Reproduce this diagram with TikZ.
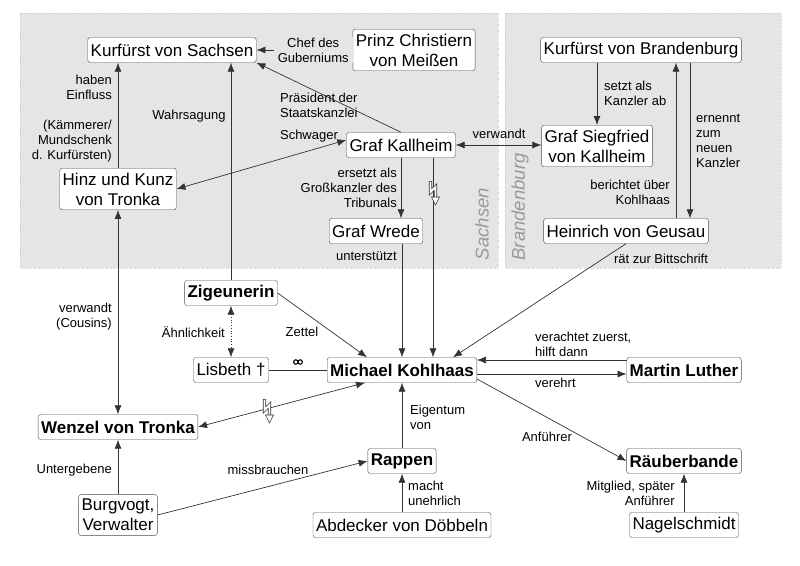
\documentclass[tikz,border=0pt]{standalone}
\usepackage{fontspec}
\setmainfont{Liberation Sans}
\usetikzlibrary{arrows.meta}

\definecolor{landfill}{RGB}{229,229,229}
\definecolor{landline}{RGB}{200,200,200}

\tikzset{
    person/.style={draw=black!70, fill=white, rounded corners=2.5pt, inner xsep=3pt, inner ysep=4.5pt,
        minimum height=25pt, align=center, font=\fontsize{17}{20}\selectfont},
    hero/.style={person, font=\fontsize{17}{20}\selectfont\bfseries},
    lbl/.style={inner sep=0pt, font=\fontsize{13}{15}\selectfont},
    rel/.style={draw=black!80, line width=0.7pt},
    land/.style={draw=landline, dotted, fill=landfill},
    landname/.style={rotate=90, inner sep=0pt, text=black!40, font=\fontsize{18.5}{20}\selectfont\itshape},
    blitz/.pic={
        \draw[black!80, line width=3.4pt, line join=miter] (-2.5,-12) -- (-2.5,-1) -- (2.5,-6) -- (2.5,5);
        \draw[white, line width=1.8pt, line join=miter] (-2.5,-11.3) -- (-2.5,-1) -- (2.5,-6) -- (2.5,5);
        \draw[black!80, fill=white, line width=0.6pt] (-1.5,4) -- (6.5,4) -- (2.5,12) -- cycle;}
}

\begin{document}
\begin{tikzpicture}[x=1pt, y=-1pt, >={Latex[length=9pt,width=7pt]}] % pixel units, y pointing down

        \useasboundingbox (0,0) rectangle (800,565); % page of 800 x 565

        % Territories
        \draw[land] (20,13) rectangle (498,268);
        \draw[land] (505,13) rectangle (781,268);
        \node[landname] (sachsen) at (482,224) {Sachsen};
        \node[landname] (brandenburg) at (520,207) {Brandenburg};

        % Persons
        \node[person] (ksachsen) at (172,50) {Kurfürst von Sachsen};
        \node[person] (prinz) at (414,50) {Prinz Christiern\\von Meißen};
        \node[person] (kbrand) at (641,50) {Kurfürst von Brandenburg};
        \node[person] (kallheim) at (401,145) {Graf Kallheim};
        \node[person] (siegfried) at (597,146) {Graf Siegfried\\von Kallheim};
        \node[person] (hinzkunz) at (118,189) {Hinz und Kunz\\von Tronka};
        \node[person] (wrede) at (376,231) {Graf Wrede};
        \node[person] (geusau) at (626,231) {Heinrich von Geusau};
        \node[hero] (zigeunerin) at (231,293) {Zigeunerin};
        \node[person] (lisbeth) at (231,370) {Lisbeth †};
        \node[hero] (kohlhaas) at (402,370) {Michael Kohlhaas};
        \node[hero] (luther) at (684,370) {Martin Luther};
        \node[hero] (wenzel) at (118,427) {Wenzel von Tronka};
        \node[hero] (rappen) at (402,461) {Rappen};
        \node[hero] (bande) at (684,461) {Räuberbande};
        \node[person] (burgvogt) at (118,515) {Burgvogt,\\Verwalter};
        \node[person] (abdecker) at (402,525) {Abdecker von Döbbeln};
        \node[person] (nagel) at (684,525) {Nagelschmidt};

        % Relations in Sachsen
        \draw[rel,->] (prinz.west) -- node[lbl, pos=0.41, fill=landfill, inner xsep=4pt, inner ysep=1pt, align=center] (chef) {Chef des\\Guberniums} (ksachsen.east);
        \draw[rel,->] (kallheim.north) -- (ksachsen.south east);
        \node[lbl, anchor=west, align=left] (praesident) at (280,105) {Präsident der\\Staatskanzlei};
        \draw[rel,<->] ([yshift=5pt]kallheim.west) -- (hinzkunz.east);
        \node[lbl] (schwager) at (309,136) {Schwager};
        \draw[rel,->] (hinzkunz.north) -- (hinzkunz.north |- ksachsen.south);
        \node[lbl, anchor=east, align=right] (einfluss) at (112,87) {haben\\Einfluss};
        \node[lbl, anchor=east, align=right] (kaemmerer) at (112,141) {(Kämmerer/\\Mundschenk\\d. Kurfürsten)};
        \draw[rel,->] (zigeunerin.north) -- (zigeunerin.north |- ksachsen.south);
        \node[lbl] (wahrsagung) at (189,116) {Wahrsagung};
        \draw[rel,->] (kallheim.south) -- (kallheim.south |- wrede.north);
        \node[lbl, anchor=east, align=right] (ersetzt) at (397,188) {ersetzt als\\Großkanzler des\\Tribunals};
        \draw[rel,->] (kohlhaas.north |- wrede.south) -- (kohlhaas.north);
        \node[lbl, anchor=east] (unterstuetzt) at (397,256) {unterstützt};
        \draw[rel,->] ([xshift=32pt]kallheim.south) -- ([xshift=32pt]kallheim.south |- kohlhaas.north);
        \pic at (433,193) {blitz};

        % Relations in Brandenburg
        \draw[rel,<->] (kallheim.east) -- (kallheim.east -| siegfried.west);
        \node[lbl] (verwandt) at (499,134) {verwandt};
        \draw[rel,->] (siegfried.north |- kbrand.south) -- (siegfried.north);
        \node[lbl, anchor=west, align=left] (absetzen) at (604,93) {setzt als\\Kanzler ab};
        \draw[rel,->] ([xshift=50pt]geusau.north) -- ([xshift=50pt]geusau.north |- kbrand.south);
        \node[lbl, anchor=east, align=right] (berichtet) at (670,192) {berichtet über\\Kohlhaas};
        \draw[rel,->] ([xshift=64pt]geusau.north |- kbrand.south) -- ([xshift=64pt]geusau.north);
        \node[lbl, anchor=west, align=left] (ernennt) at (696,141) {ernennt\\zum\\neuen\\Kanzler};
        \draw[rel,->] (geusau.south) -- ([xshift=-24pt]kohlhaas.north east);
        \node[lbl] (bittschrift) at (661,259) {rät zur Bittschrift};

        % Relations round Kohlhaas
        \draw[rel,->] (zigeunerin.east) -- ([xshift=40pt]kohlhaas.north west);
        \node[lbl] (zettel) at (302,332) {Zettel};
        \draw[rel,<->,dotted] (zigeunerin.south) -- (lisbeth.north);
        \node[lbl, anchor=east] (aehnlich) at (225,332) {Ähnlichkeit};
        \draw[rel] (lisbeth.east) -- (kohlhaas.west);
        \draw[line width=1.1pt] (295.8,362) circle (2.2pt) (300.2,362) circle (2.2pt); % married
        \draw[rel,<->] ([xshift=38pt]kohlhaas.south west) -- (wenzel.east);
        \pic at (267,411) {blitz};
        \draw[rel,<->] (hinzkunz.south) -- (wenzel.north);
        \node[lbl, anchor=east, align=right] (cousins) at (112,317) {verwandt\\(Cousins)};
        \draw[rel,->] (burgvogt.north) -- (wenzel.south);
        \node[lbl, anchor=east] (untergebene) at (112,470) {Untergebene};
        \draw[rel,->] (burgvogt.east) -- (rappen.west);
        \node[lbl] (missbrauchen) at (268,470) {missbrauchen};
        \draw[rel,->] (rappen.north) -- (kohlhaas.south);
        \node[lbl, anchor=west, align=left] (eigentum) at (410,417) {Eigentum\\von};
        \draw[rel,->] (abdecker.north) -- (rappen.south);
        \node[lbl, anchor=west, align=left] (unehrlich) at (408,493) {macht\\unehrlich};
        \draw[rel,->] ([yshift=10pt]luther.west) -- ([yshift=10pt]luther.west -| kohlhaas.east);
        \node[lbl, anchor=west, align=left] (verachtet) at (535,344) {verachtet zuerst,\\hilft dann};
        \draw[rel,->] ([yshift=-4pt]kohlhaas.east) -- ([yshift=-4pt]kohlhaas.east -| luther.west);
        \node[lbl, anchor=west] (verehrt) at (535,383) {verehrt};
        \draw[rel,->] ([yshift=-9pt]kohlhaas.east) -- (bande.west);
        \node[lbl] (anfuehrer) at (547,437) {Anführer};
        \draw[rel,->] (nagel.north) -- (bande.south);
        \node[lbl, anchor=east, align=right] (mitglied) at (675,493) {Mitglied, später\\Anführer};

    \end{tikzpicture}
\end{document}
